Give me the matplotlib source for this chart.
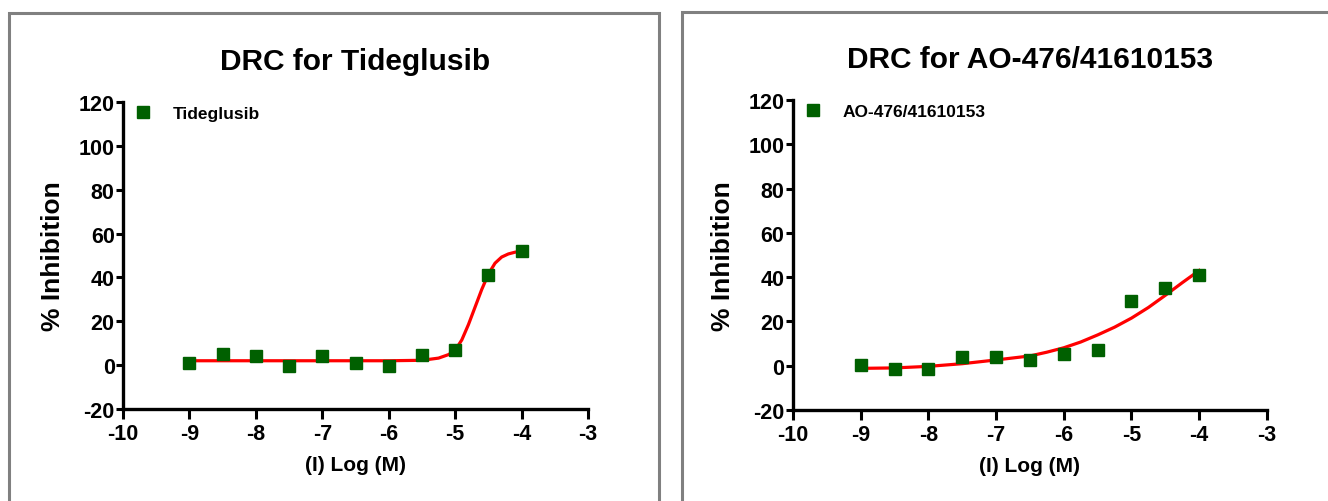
import matplotlib
matplotlib.use("Agg")
import matplotlib.pyplot as plt
from matplotlib.patches import Rectangle

plt.rcParams["axes.unicode_minus"] = False

# ── data ──────────────────────────────────────────
log_conc = [-9, -8.5, -8, -7.5, -7, -6.5, -6, -5.5, -5, -4.5, -4]

tide_inhib = [1, 5, 4, -0.5, 4, 1, -0.5, 4.5, 7, 41, 52]
tide_fit_x = [-9, -8.5, -8, -7.5, -7, -6.5, -6, -5.5, -5.25, -5.1, -5.0,
              -4.9, -4.8, -4.7, -4.6, -4.5, -4.4, -4.3, -4.2, -4.1, -4.0]
tide_fit_y = [2, 2, 2, 2, 2, 2, 2, 2.2, 3.2, 4.8, 6.8,
              11.5, 18.5, 26.5, 34.5, 41.5, 46.5, 49.3, 50.7, 51.5, 52]

ao_inhib = [0.5, -1.5, -1.5, 4, 4, 2.5, 5.5, 7, 29, 35, 41]
ao_fit_x = [-9, -8.5, -8, -7.5, -7, -6.5, -6.25, -6, -5.75, -5.5, -5.25,
            -5, -4.75, -4.5, -4.25, -4]
ao_fit_y = [-1.2, -1, -0.3, 0.9, 2.6, 4.4, 6.1, 8.1, 10.7, 13.9, 17.4,
            21.5, 26.3, 31.8, 37.5, 43]

panels = [
    ("DRC for Tideglusib", "Tideglusib", tide_inhib, tide_fit_x, tide_fit_y,
     [0.0926, 0.1833, 0.3502, 0.6115]),
    ("DRC for AO-476/41610153", "AO-476/41610153", ao_inhib, ao_fit_x, ao_fit_y,
     [0.5971, 0.1813, 0.3569, 0.6175]),
]

fam = ["Liberation Sans", "DejaVu Sans"]
bold = dict(fontweight="bold", family=fam)

fig = plt.figure(figsize=(13.28, 5.02), dpi=100)

# gray panel frames
fig.patches.append(Rectangle((9 / 1328, -0.05), 650 / 1328, 1.05 - 14 / 502,
                             transform=fig.transFigure, fill=False,
                             edgecolor="#808080", linewidth=2.2))
fig.patches.append(Rectangle((682 / 1328, -0.05), 0.5, 1.05 - 13 / 502,
                             transform=fig.transFigure, fill=False,
                             edgecolor="#808080", linewidth=2.2))

for title, name, inhib, fx, fy, rect in panels:
    ax = fig.add_axes(rect)
    ax.plot(log_conc, inhib, linestyle="none", marker="s", markersize=8,
            color="#006000", label=name, zorder=3)
    ax.plot(fx, fy, color="#ff0000", linewidth=2.3, zorder=2)

    ax.set_xlim(-10, -3)
    ax.set_ylim(-20, 120)
    ax.set_xticks(range(-10, -2))
    ax.set_yticks(range(-20, 121, 20))
    for lab in ax.get_xticklabels() + ax.get_yticklabels():
        lab.set(fontsize=15.5, **bold)

    for s in ["top", "right"]:
        ax.spines[s].set_visible(False)
    for s in ["left", "bottom"]:
        ax.spines[s].set_linewidth(2.4)
    ax.tick_params(axis="y", direction="out", length=5, width=2.2, pad=1)
    ax.tick_params(axis="x", direction="out", length=7, width=2.2, pad=3)

    ax.set_title(title, fontsize=21.5, pad=24, **bold)
    ax.set_xlabel("(I) Log (M)", fontsize=15, labelpad=8, **bold)
    ax.set_ylabel("% Inhibition", fontsize=19, labelpad=10, **bold)

    ax.legend(loc="upper left", bbox_to_anchor=(0.01, 1.01),
              frameon=False, handlelength=1.0, handletextpad=1.2,
              borderaxespad=0, prop=dict(size=12.5, weight="bold", family=fam))

plt.savefig("out.png", dpi=100)
